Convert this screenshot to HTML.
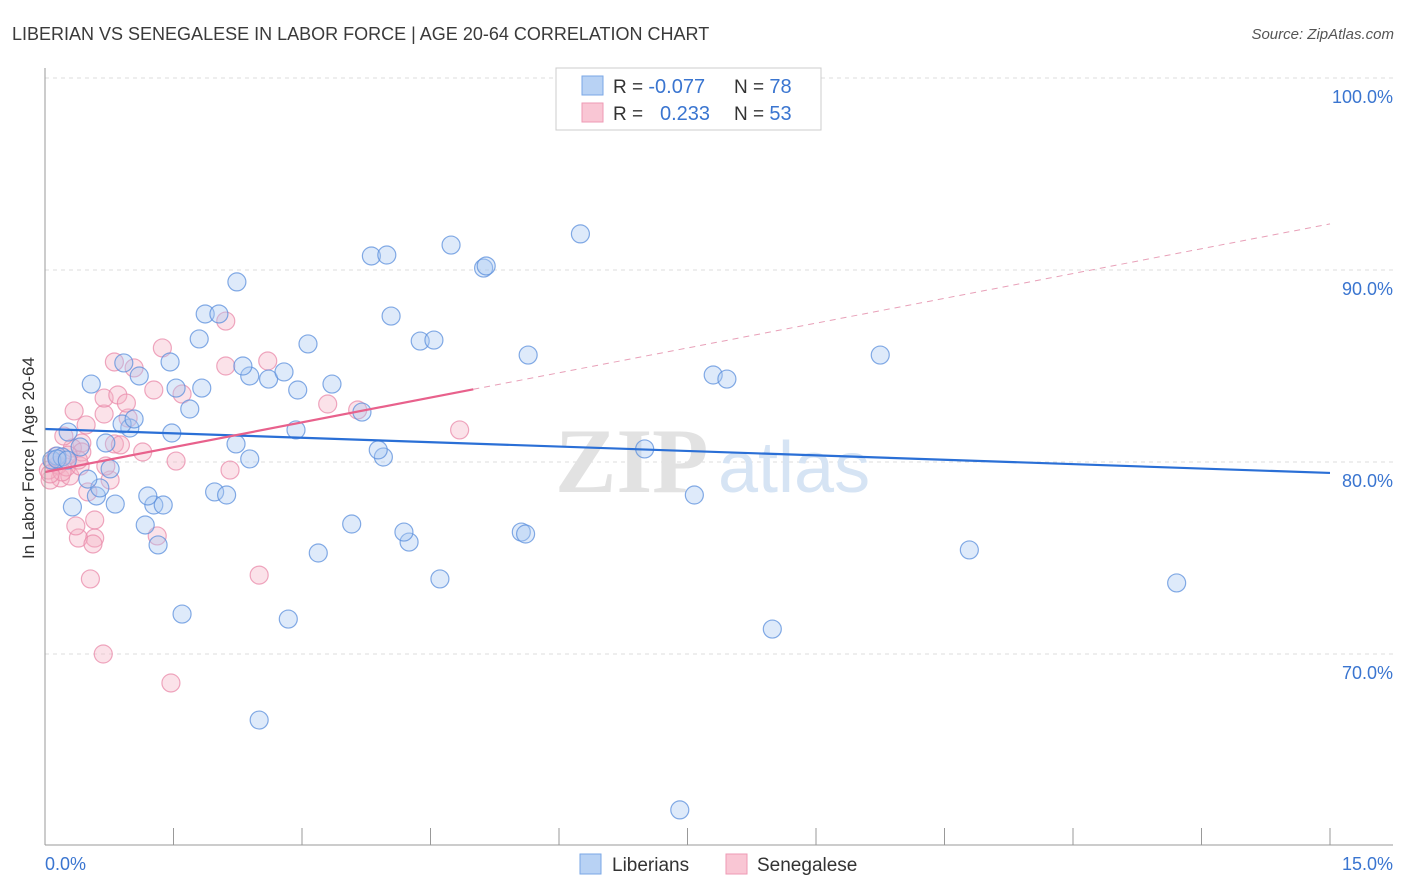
<!DOCTYPE html>
<html><head><meta charset="utf-8"><style>
body{margin:0;background:#fff;font-family:"Liberation Sans",sans-serif}
svg{display:block}
</style></head><body>
<svg id="c" width="1406" height="892">
<text x="12" y="40" font-size="18" fill="#3a3a3a">LIBERIAN VS SENEGALESE IN LABOR FORCE | AGE 20-64 CORRELATION CHART</text>
<text x="1394" y="39" font-size="15" fill="#555" font-style="italic" text-anchor="end">Source: ZipAtlas.com</text>
<text x="34" y="458" font-size="17" fill="#333" text-anchor="middle" transform="rotate(-90 34 458)">In Labor Force | Age 20-64</text>
<g id="grid"></g>
<text x="555" y="492" font-size="92" fill="#e2e2e2" font-family="Liberation Serif" font-weight="bold">ZIP</text>
<text x="718" y="492" font-size="72" fill="#d6e4f4">atlas</text>
<g id="pts"></g>
<g id="lines"></g>
<line x1="45" y1="68" x2="45" y2="845" stroke="#999"/>
<line x1="45" y1="845" x2="1393" y2="845" stroke="#999"/>
<g id="xt"></g>
<text x="45" y="870" font-size="18" fill="#3a75d0">0.0%</text>
<text x="1393" y="870" font-size="18" fill="#3a75d0" text-anchor="end">15.0%</text>
<g>
<rect x="556" y="68" width="265" height="62" fill="#fff" stroke="#ccc"/>
<rect x="582" y="76" width="21" height="19" fill="#b8d2f4" stroke="#7aa7e6"/>
<rect x="582" y="103" width="21" height="19" fill="#f9c6d4" stroke="#ee9ab4"/>
<text x="613" y="93" font-size="19" fill="#333">R = <tspan fill="#3a75d0" font-size="20">-0.077</tspan></text>
<text x="734" y="93" font-size="19" fill="#333">N = <tspan fill="#3a75d0" font-size="20">78</tspan></text>
<text x="613" y="120" font-size="19" fill="#333">R = <tspan fill="#3a75d0" x="660" font-size="20">0.233</tspan></text>
<text x="734" y="120" font-size="19" fill="#333">N = <tspan fill="#3a75d0" font-size="20">53</tspan></text>
</g>
<g>
<rect x="580" y="854" width="21" height="20" fill="#b8d2f4" stroke="#7aa7e6"/>
<text x="612" y="871" font-size="19" fill="#333">Liberians</text>
<rect x="726" y="854" width="21" height="20" fill="#f9c6d4" stroke="#ee9ab4"/>
<text x="757" y="871" font-size="19" fill="#333">Senegalese</text>
</g>
</svg>
<script>
const yTicks=[100,90,80,70];
const blueXY=[[680,810],[259,720],[182,614],[288,619],[772,629],[1177,583],[969,550],[440,579],[318,553],[409,542],[404,532],[352,524],[521,532],[526,534],[158,545],[145,525],[72,507],[115,504],[154,505],[163,505],[148,496],[215,492],[227,495],[694,495],[96,496],[100,488],[88,479],[110,469],[250,459],[383,457],[378,450],[645,449],[236,444],[106,443],[80,447],[57,456],[52,460],[62,457],[68,432],[130,428],[172,433],[296,430],[122,424],[134,419],[190,409],[362,412],[298,390],[176,388],[202,388],[332,384],[91,384],[139,376],[250,376],[269,379],[284,372],[243,366],[170,362],[124,363],[713,375],[727,379],[880,355],[528,355],[199,339],[308,344],[420,341],[434,340],[391,316],[205,314],[219,314],[237,282],[371,256],[387,255],[484,268],[486,266],[451,245],[580,234],[57,459],[67,460]];
const pinkXY=[[171,683],[103,654],[90,579],[259,575],[95,538],[78,538],[93,544],[157,536],[76,526],[95,520],[88,492],[110,480],[60,478],[50,480],[70,476],[48,470],[58,465],[66,467],[80,466],[106,466],[176,461],[230,470],[143,452],[82,443],[114,444],[72,448],[64,436],[86,425],[104,414],[128,418],[74,411],[104,398],[118,395],[126,403],[154,390],[182,394],[328,404],[358,410],[460,430],[134,368],[114,362],[162,348],[226,366],[268,361],[226,321],[82,452],[78,460],[53,462],[56,456],[62,472],[120,445],[50,474],[68,455]];
const blueX=blueXY.map(p=>+((p[0]-45)/1285*15).toFixed(2));
const blueY=blueXY.map(p=>+(100-(p[1]-78)/19.2).toFixed(2));
const pinkX=pinkXY.map(p=>+((p[0]-45)/1285*15).toFixed(2));
const pinkY=pinkXY.map(p=>+(100-(p[1]-78)/19.2).toFixed(2));
const blueTrend=[81.72,79.43];
const pinkTrend=[79.48,92.4];
const pinkSolidEnd=5.0;
const NS="http://www.w3.org/2000/svg";
const sx=v=>45+v/15*1285, sy=v=>78+(100-v)*19.2;
function mk(t,a,p){const e=document.createElementNS(NS,t);for(const k in a)e.setAttribute(k,a[k]);p.appendChild(e);return e;}
const grid=document.getElementById('grid');
yTicks.forEach(t=>{
 const l=mk('line',{x1:45,x2:1393,y1:sy(t),y2:sy(t),stroke:'#ddd','stroke-dasharray':'4 4'},grid);
 
 
 const tx=mk('text',{x:1393,y:sy(t)+25,'font-size':18,fill:'#3a75d0','text-anchor':'end'},grid);
 tx.textContent=t.toFixed(1)+'%';
 
 
});
const xt=document.getElementById('xt');
for(let i=0;i<=10;i++){
 const l=mk('line',{x1:sx(i*1.5),x2:sx(i*1.5),y1:828,y2:845,stroke:'#999'},xt);
 
 
}
const pts=document.getElementById('pts');
function draw(X,Y,fill,stroke,name){
 X.forEach((x,i)=>{
  const c=mk('circle',{cx:sx(x),cy:sy(Y[i]),r:9,fill:fill,'fill-opacity':0.38,stroke:stroke,'stroke-opacity':0.75,'stroke-width':1.2},pts);
  
  
 });
}
draw(pinkX,pinkY,'#f4b3c6','#e98aa9','senegalese-point');
draw(blueX,blueY,'#a9c8f1','#5b8fdc','liberian-point');
const lines=document.getElementById('lines');
const bl=mk('line',{x1:sx(0),y1:sy(blueTrend[0]),x2:sx(15),y2:sy(blueTrend[1]),stroke:'#2a6fd6','stroke-width':2.2},lines);


const pe=pinkTrend[0]+(pinkTrend[1]-pinkTrend[0])*pinkSolidEnd/15;
const ps=mk('line',{x1:sx(0),y1:sy(pinkTrend[0]),x2:sx(pinkSolidEnd),y2:sy(pe),stroke:'#e8618c','stroke-width':2.2},lines);


const pd=mk('line',{x1:sx(pinkSolidEnd),y1:sy(pe),x2:sx(15),y2:sy(pinkTrend[1]),stroke:'#e8a0b8','stroke-width':1,'stroke-dasharray':'6 5'},lines);


</script>
</body></html>
